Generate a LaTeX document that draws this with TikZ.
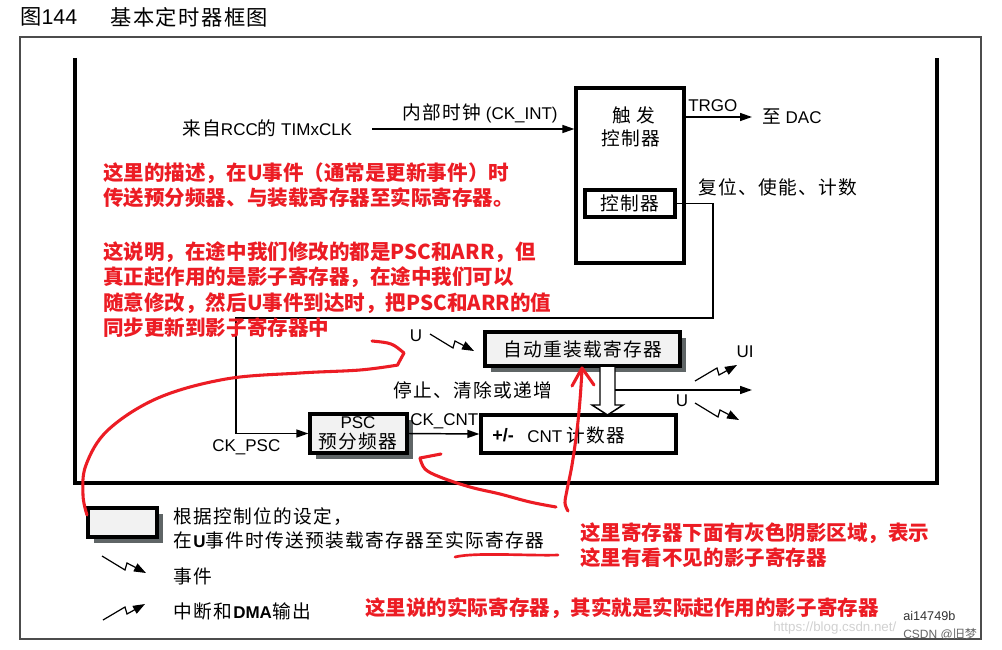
\documentclass[tikz,border=0pt]{standalone}
\usepackage{fontspec}
\setmainfont{Liberation Sans}
\newfontfamily\cjk[Scale=1.1,LetterSpace=7]{Noto Sans CJK SC}
\newfontfamily\cjkred{Noto Sans CJK SC}
\usetikzlibrary{arrows.meta,shadows}
\definecolor{redann}{RGB}{236,28,36}
\definecolor{shadowc}{RGB}{95,101,102}
\definecolor{boxfill}{RGB}{242,242,242}
\newcommand\zh[1]{{\cjk #1}}
\newcommand\dtext{\fontsize{12.75}{15}\selectfont}
\newcommand\rtext{\cjkred\bfseries\fontsize{15.4}{19}\selectfont}
\tikzset{
  t/.style={inner sep=0pt,font=\dtext},
  rt/.style={inner sep=0pt,anchor=west,font=\rtext,text=redann},
  blk/.style={draw,line width=2.4pt,fill=white,inner sep=0pt,font=\dtext},
  shd/.style={blk,fill=boxfill,drop shadow={shadow xshift=4.8pt,shadow yshift=-4.8pt,fill=shadowc,opacity=1}},
  wire/.style={line width=1.1pt},
  arr/.style={wire,-{Triangle[length=9pt,width=6pt]}},
  evt/.style={line width=0.9pt,-{Triangle[length=9pt,width=6.5pt]}},
  redc/.style={draw=redann,line width=2.3pt,line cap=round,line join=round},
  evtdown/.pic={\draw[evt] (0,0) -- (23,14) -- (25,7) -- (44,17);},
  evtup/.pic={\draw[evt] (0,0) -- (22,-13) -- (24,-6) -- (42,-16);}
}
\begin{document}
\begin{tikzpicture}[x=0.75pt,y=-0.75pt]
\useasboundingbox[fill=white] (0,0) rectangle (1002,649);
% title
\node[inner sep=0pt,anchor=west,font=\fontsize{16}{18}\selectfont] (fig) at (20,17) {{\cjk\fontsize{14.5}{17}\selectfont 图}144};
\node[inner sep=0pt,anchor=west,font=\fontsize{14.5}{17}\selectfont] (title) at (110,17) {\zh{基本定时器框图}};
% frames
\draw[black!70,line width=1.2pt] (20,37) rectangle (981,639);
\draw[line width=2.3pt] (75,58) -- (75,483) -- (937,483) -- (937,58);
% trigger controller
\node[blk,minimum width=81pt,minimum height=131.25pt] (trig) at (630,175.5) {};
\node[t] (trigA) at (634,115) {\zh{触 发}};
\node[t] (trigB) at (631,138) {\zh{控制器}};
\node[blk,minimum width=67.5pt,minimum height=20.25pt] (ctrl) at (630,203.5) {\zh{控制器}};
% clock input
\node[t,anchor=west] (src) at (182,128) {\zh{来自}RCC\zh{的} TIMxCLK};
\coordinate (ckin) at (372,129);
\draw[arr] (ckin) -- (trig.west |- ckin);
\node[t] (ckint) at (480,113) {\zh{内部时钟} (CK\_INT)};
% TRGO
\coordinate (dac) at (752,117);
\draw[arr] (trig.east |- dac) -- (dac);
\node[t,anchor=west] (trgo) at (688,106) {TRGO};
\node[t,anchor=west] (dact) at (762,117) {\zh{至} DAC};
\node[t,anchor=west] (rst) at (698,187) {\zh{复位、使能、计数}};
% boxes
\node[shd,minimum width=146.25pt,minimum height=25.5pt] (arr) at (582.5,349) {\zh{自动重装载寄存器}};
\node[shd,minimum width=72.75pt,minimum height=29.25pt] (psc) at (358.5,433.5) {};
\node[t] (pscA) at (358,423) {PSC};
\node[t] (pscB) at (358,441) {\zh{预分频器}};
\node[blk,minimum width=146.25pt,minimum height=28.5pt] (cnt) at (578.5,434) {};
\node[t,anchor=west,font=\fontsize{13.5}{15}\selectfont\bfseries] (pm) at (492,435) {+/-};
\node[t,anchor=west] (cntt) at (527,435) {CNT \zh{计数器}};
% control wire
\coordinate (w1) at (713,318);
\coordinate (w2) at (236,318);
\draw[arr] (ctrl.east) -| (w1) -- (w2) |- (psc.west);
\node[t,anchor=west] (ckpsc) at (212,447) {CK\_PSC};
\draw[arr] (psc.east) -- (cnt.west);
\node[t,anchor=west] (ckcnt) at (410,421) {CK\_CNT};
\node[t,anchor=west] (stop) at (393,390) {\zh{停止、清除或递增}};
% hollow transfer arrow
\draw[wire,fill=white] (600,367) -- (600,405) -- (592,405) -- (607.5,415) -- (623,405) -- (615,405) -- (615,367);
\coordinate (out) at (752,390);
\draw[arr] (615,390) -- (out);
% events
\node[t] (uin) at (416,336) {U};
\pic at (430,334) {evtdown};
\node[t] (ui) at (745,352) {UI};
\pic at (695,381) {evtup};
\node[t] (uout) at (682,401) {U};
\pic at (695,403) {evtdown};
% legend
\node[shd,minimum width=51.75pt,minimum height=21.75pt] (leg) at (122.5,522.5) {};
\node[t,anchor=west] (legA) at (173,517) {\zh{根据控制位的设定，}};
\node[t,anchor=west] (legB) at (173,540) {\zh{在}\textbf{U}\zh{事件时传送预装载寄存器至实际寄存器}};
\pic at (102,556) {evtdown};
\node[t,anchor=west] (legC) at (173,576) {\zh{事件}};
\pic at (103,620) {evtup};
\node[t,anchor=west] (legD) at (173,611) {\zh{中断和}\textbf{DMA}\zh{输出}};
\node[inner sep=0pt,anchor=west,font=\fontsize{9.5}{11}\selectfont,text=black!80] (ai) at (903,616) {ai14749b};
\node[inner sep=0pt,anchor=west,font=\fontsize{10}{12}\selectfont,text=black!18] (url) at (773,628) {https://blog.csdn.net/};
\node[inner sep=0pt,anchor=west,font=\fontsize{9}{11}\selectfont,text=black!60] (csdn) at (903,634) {CSDN @{\cjkred 旧梦}};
% red annotations
\node[rt] (r1) at (103,173) {这里的描述，在U事件（通常是更新事件）时};
\node[rt] (r2) at (103,198) {传送预分频器、与装载寄存器至实际寄存器。};
\node[rt] (r3) at (103,252) {这说明，在途中我们修改的都是PSC和ARR，但};
\node[rt] (r4) at (103,277) {真正起作用的是影子寄存器，在途中我们可以};
\node[rt] (r5) at (103,303) {随意修改，然后U事件到达时，把PSC和ARR的值};
\node[rt] (r6) at (103,328) {同步更新到影子寄存器中};
\node[rt] (r7) at (580,533) {这里寄存器下面有灰色阴影区域，表示};
\node[rt] (r8) at (580,558) {这里有看不见的影子寄存器};
\node[rt] (r9) at (365,608) {这里说的实际寄存器，其实就是实际起作用的影子寄存器};
% red hand-drawn curves
\draw[redc] plot[smooth,tension=0.6] coordinates {(87,515) (83,495) (86,465) (108,430) (158,398) (226,379) (300,373) (360,370) (398,365)};
\draw[redc] (372,341) .. controls (392,343) .. (404,353) -- (398,364);
\draw[redc] plot[smooth,tension=0.6] coordinates {(556,507) (530,502) (500,494) (470,487) (440,477) (425,469) (420,458)};
\draw[redc] (420,458) -- (441,454);
\draw[redc] plot[smooth,tension=0.6] coordinates {(568,511) (565,503) (567,490) (572,465) (577,430) (580,400) (582,370)};
\draw[redc] (572,386) -- (582,368) -- (594,385);
\draw[redc,line width=2pt] (455,557) .. controls (475,552) and (530,556) .. (558,555);
\end{tikzpicture}
\end{document}
